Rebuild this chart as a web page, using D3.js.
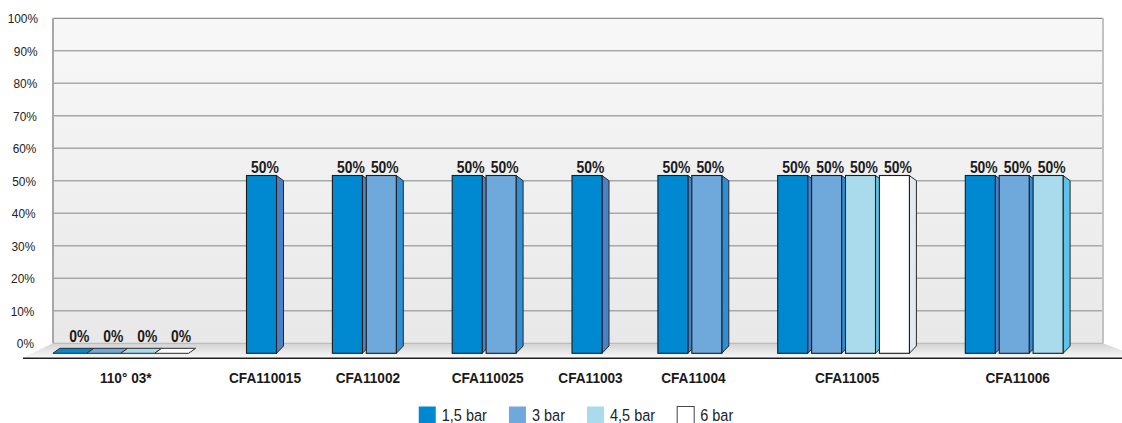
<!DOCTYPE html>
<html><head><meta charset="utf-8">
<script src="https://cdn.jsdelivr.net/npm/d3@7"></script>
<style>
html,body{margin:0;padding:0;background:#fff;overflow:hidden;}
svg{display:block;}
text{font-family:"Liberation Sans",Arial,sans-serif;}
</style></head><body>
<svg id="chart" width="1122" height="423"></svg>
<script>
// ---- data ----
const categories = ["110° 03*","CFA110015","CFA11002","CFA110025","CFA11003","CFA11004","CFA11005","CFA11006"];
const seriesNames = ["1,5 bar","3 bar","4,5 bar","6 bar"];
const bar15 = [0,50,50,50,50,50,50,50];
const bar3  = [0,null,50,50,null,50,50,50];
const bar45 = [0,null,null,null,null,null,50,50];
const bar6  = [0,null,null,null,null,null,50,null];
const yTickValues = [0,10,20,30,40,50,60,70,80,90,100];
const yTickLabels = ["0%","10%","20%","30%","40%","50%","60%","70%","80%","90%","100%"];

// ---- styles ----
const frontColors = ["#0089d1","#6fa9dc","#a9dbec","#ffffff"];
const sideColors  = ["#4a80c6","#2f8ed6","#5cc3ea","#e3e9ec"];
const seriesValues = [bar15, bar3, bar45, bar6];
const narrow = 0.88; // condensed look

const svg = d3.select("#chart");

function ntext(sel, x, y) {
  return sel.append("text").attr("transform", `translate(${x},${y}) scale(${narrow},1)`);
}

// geometry
const wallL = 53, wallR = 1103;
const stride = 33.9, barW = 30, depthX = 7, padPx = 52;
const padU = padPx / stride;

const yB = d3.scaleLinear().domain([0,100]).range([343.3, 18.3]); // back wall
const yF = d3.scaleLinear().domain([0,100]).range([353.3, -2.3]); // bar front
const yS = d3.scaleLinear().domain([0,100]).range([346, 15.4]);   // bar back

// per-category bars
const catBars = categories.map((c,i) => {
  const bars = [];
  seriesValues.forEach((arr,s) => { if (arr[i] !== null && arr[i] !== undefined) bars.push({s, v: arr[i]}); });
  return bars;
});
const catUnits = catBars.map(b => padU + b.length);
const totalUnits = d3.sum(catUnits);
const xU = d3.scaleLinear().domain([0,totalUnits]).range([34.45, 1094.55]);
let acc = 0;
const catCenters = catUnits.map(u => { const c = xU(acc + u/2); acc += u; return c; });

// gradients
const defs = svg.append("defs");
const gw = defs.append("linearGradient").attr("id","wallG").attr("x1",0).attr("y1",0).attr("x2",0).attr("y2",1);
gw.append("stop").attr("offset","0%").attr("stop-color","#f8f8f8");
gw.append("stop").attr("offset","100%").attr("stop-color","#e8e8e8");
const gf = defs.append("linearGradient").attr("id","floorG").attr("x1",0).attr("y1",0).attr("x2",0).attr("y2",1);
gf.append("stop").attr("offset","0%").attr("stop-color","#d2d2d2");
gf.append("stop").attr("offset","100%").attr("stop-color","#f8f8f8");

// wall
svg.append("rect").attr("x",wallL).attr("y",yB(100)).attr("width",wallR-wallL).attr("height",yB(0)-yB(100)).attr("fill","url(#wallG)");
// gridlines
svg.append("g").selectAll("line").data(yTickValues.filter(v=>v>0&&v<100)).join("line")
  .attr("x1",wallL).attr("x2",wallR).attr("y1",d=>yB(d)).attr("y2",d=>yB(d))
  .attr("stroke","#a8a8a8").attr("stroke-width",1.5);
svg.append("line").attr("x1",wallL).attr("x2",wallR).attr("y1",yB(100)).attr("y2",yB(100)).attr("stroke","#8c8c8c").attr("stroke-width",1.2);
svg.append("line").attr("x1",wallL).attr("x2",wallL).attr("y1",yB(100)).attr("y2",yB(0)).attr("stroke","#a8a8a8").attr("stroke-width",2);
svg.append("line").attr("x1",wallR).attr("x2",wallR).attr("y1",yB(100)).attr("y2",yB(0)).attr("stroke","#c2c2c2").attr("stroke-width",2);

// floor
const floorFront = 357.5;
svg.append("polygon")
  .attr("points",[[wallL,yB(0)],[wallR,yB(0)],[1141,floorFront],[23,floorFront]].map(p=>p.join(",")).join(" "))
  .attr("fill","url(#floorG)");
svg.append("line").attr("x1",wallL).attr("x2",wallR).attr("y1",yB(0)).attr("y2",yB(0)).attr("stroke","#b4b4b4").attr("stroke-width",1);
svg.append("line").attr("x1",23).attr("x2",1122).attr("y1",358.2).attr("y2",358.2).attr("stroke","#1e1e1e").attr("stroke-width",1.6);

// bars
const barsG = svg.append("g");
const labelsG = svg.append("g");
catBars.forEach((bars,i) => {
  const n = bars.length;
  const x0 = catCenters[i] - (n*stride + 3.1)/2;
  bars.forEach((b,j) => {
    const x = x0 + j*stride;
    if (b.v > 0) {
      barsG.append("polygon")
        .attr("points",[[x+barW,yF(b.v)],[x+barW+depthX,yS(b.v)],[x+barW+depthX,yS(0)],[x+barW,yF(0)]].map(p=>p.join(",")).join(" "))
        .attr("fill",sideColors[b.s]).attr("stroke","#2a2a2a").attr("stroke-width",1).attr("stroke-linejoin","round");
      barsG.append("rect").attr("x",x).attr("y",yF(b.v)).attr("width",barW).attr("height",yF(0)-yF(b.v))
        .attr("fill",frontColors[b.s]).attr("stroke","#1c1c1c").attr("stroke-width",1.1);
    } else {
      barsG.append("polygon")
        .attr("points",[[x-6,yF(0)],[x+barW-2,yF(0)],[x+barW+5,yF(0)-5],[x+1,yF(0)-5]].map(p=>p.join(",")).join(" "))
        .attr("fill",frontColors[b.s]).attr("stroke","#2a2a2a").attr("stroke-width",1).attr("stroke-linejoin","round");
    }
    ntext(labelsG, x + (b.v > 0 ? 18.5 : 20.5), Math.min(yF(b.v) - 3, 342))
      .attr("text-anchor","middle")
      .attr("font-weight","bold").attr("font-size","15.8px").attr("fill","#1a1a1a")
      .text(b.v + "%");
  });
});

// y labels
const yl = svg.append("g");
yTickValues.forEach((d,i) => {
  ntext(yl, 34 + 4*d/100, yB(d) + 4.7)
    .attr("text-anchor","end").attr("font-size","13.5px").attr("fill","#222")
    .text(yTickLabels[i]);
});

// category labels
const cl = svg.append("g");
categories.forEach((d,i) => {
  ntext(cl, catCenters[i] - (i === 0 ? 2.5 : 0), 383.3)
    .attr("text-anchor","middle").attr("font-weight","bold").attr("font-size","15.5px").attr("fill","#1a1a1a")
    .text(d);
});

// legend
const lg = svg.append("g");
const items = seriesNames.map((name,i) => {
  const g = lg.append("g");
  g.append("rect").attr("x",0).attr("y",406.5).attr("width",17).attr("height",17)
    .attr("fill",frontColors[i]).attr("stroke", i===3 ? "#444" : "none").attr("stroke-width",1);
  const t = ntext(g, 23, 420.5).attr("font-size","16.5px").attr("fill","#222").text(name);
  return {g, w: 23 + t.node().getComputedTextLength()*narrow};
});
const gap = 22;
const totalW = d3.sum(items, d=>d.w) + gap*(items.length-1);
let lx = 576 - totalW/2;
items.forEach(it => { it.g.attr("transform",`translate(${lx},0)`); lx += it.w + gap; });
</script>
</body></html>
